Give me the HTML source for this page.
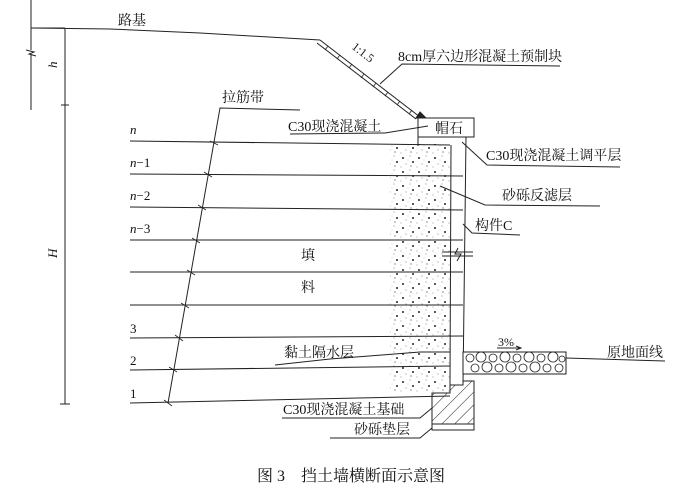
<!DOCTYPE html>
<html><head><meta charset="utf-8"><style>
html,body{margin:0;padding:0;background:#fff;}
svg{display:block;}
text{font-family:"Liberation Serif","Noto Serif CJK SC","Noto Sans CJK SC",serif;fill:#111;}
</style></head><body>
<svg width="684" height="492" viewBox="0 0 684 492" xmlns="http://www.w3.org/2000/svg">
<defs>
<pattern id="dots" width="16" height="14" patternUnits="userSpaceOnUse">
<circle cx="3" cy="4" r="1" fill="#222"/><circle cx="10" cy="2" r="0.5" fill="#666"/>
<circle cx="13" cy="8" r="1" fill="#222"/><circle cx="6" cy="10" r="0.5" fill="#666"/>
<circle cx="11" cy="12" r="0.6" fill="#444"/><circle cx="1" cy="13" r="0.5" fill="#777"/>
<circle cx="8" cy="6" r="0.4" fill="#888"/>
</pattern>
<pattern id="hatch" width="9" height="9" patternUnits="userSpaceOnUse" patternTransform="rotate(45)">
<line x1="0" y1="0" x2="0" y2="9" stroke="#222" stroke-width="1"/>
</pattern>
</defs>
<g stroke="#222" stroke-width="1" fill="none">
<line x1="31" y1="0" x2="31" y2="50"/><path d="M26 50 L34 52 L29 54 L36 56"/><line x1="31" y1="54" x2="31" y2="110"/>
<line x1="31" y1="28" x2="65" y2="28"/>
<line x1="65" y1="28" x2="65" y2="404"/>
<line x1="61" y1="105" x2="69" y2="105"/><line x1="60" y1="404" x2="70" y2="404"/>
<path d="M31 28 L110 29 L200 33 L320 40"/>
<path d="M320 40 L420 117"/><path d="M317 43 L416 119"/>
<g stroke-width="0.8">
<line x1="328" y1="46" x2="325" y2="50"/><line x1="340" y1="55" x2="337" y2="59"/><line x1="352" y1="64" x2="349" y2="68"/>
<line x1="364" y1="74" x2="361" y2="78"/><line x1="376" y1="83" x2="373" y2="87"/><line x1="388" y1="92" x2="385" y2="96"/>
<line x1="400" y1="101" x2="397" y2="105"/><line x1="412" y1="110" x2="409" y2="114"/>
</g>
<path d="M420 112 L426 118 L416 118 Z" fill="#222"/>
<rect x="418" y="118" width="56" height="19"/>
<line x1="418" y1="137" x2="418" y2="146"/>
<line x1="466" y1="137" x2="463" y2="385"/>
<line x1="451" y1="145" x2="450" y2="385"/>
<rect x="390" y="144" width="60" height="248" fill="url(#dots)" stroke="none"/>
<path d="M130 141 L450 145"/><path d="M130 174 L463 176"/><path d="M130 207 L463 210"/>
<path d="M130 240 L463 240"/><path d="M130 272 L463 272"/><path d="M130 305 L463 305"/>
<path d="M130 338 L463 336"/><path d="M130 370 L450 366"/><path d="M130 403 L450 396"/>
<path d="M300 110 L220 108 L168 403"/>
<g stroke-width="0.8">
<line x1="210" y1="141" x2="218" y2="145"/><line x1="204" y1="172" x2="212" y2="177"/><line x1="198" y1="205" x2="206" y2="210"/>
<line x1="192" y1="238" x2="200" y2="243"/><line x1="187" y1="270" x2="195" y2="275"/><line x1="181" y1="303" x2="189" y2="308"/>
<line x1="175" y1="335" x2="183" y2="341"/><line x1="169" y1="367" x2="177" y2="372"/><line x1="164" y1="400" x2="172" y2="406"/>
</g>
<path d="M442 252 L473 252 M442 256 L473 256 M458 248 L455 254 L461 254 L457 261"/>
<path d="M432 393 L450 393 L450 385 L463 385 L463 381 L474 381 L474 428 L432 428 Z" fill="url(#hatch)"/>
<rect x="432" y="424" width="42" height="6" fill="#fff"/>
<path d="M432 424 L474 424 M432 430 L474 430 M432 424 L432 430 M474 424 L474 430"/>
<rect x="463" y="352" width="103" height="22" fill="#fff"/>
<g stroke-width="0.8">
<circle cx="470" cy="358" r="4"/><circle cx="481" cy="357" r="5"/><circle cx="493" cy="358" r="4"/><circle cx="505" cy="357" r="5"/><circle cx="517" cy="358" r="4"/><circle cx="529" cy="357" r="5"/><circle cx="541" cy="358" r="4"/><circle cx="553" cy="357" r="5"/><circle cx="562" cy="359" r="3"/>
<circle cx="475" cy="368" r="4"/><circle cx="487" cy="367" r="5"/><circle cx="499" cy="368" r="4"/><circle cx="511" cy="367" r="5"/><circle cx="523" cy="368" r="4"/><circle cx="535" cy="367" r="5"/><circle cx="547" cy="368" r="4"/><circle cx="559" cy="368" r="4"/>
</g>
<path d="M566 358 L665 361"/>
<path d="M497 348 L520 348"/><path d="M516 346 L521 348 L516 350"/>
<path d="M380 84 L402 64 L560 66"/>
<path d="M385 133 L290 134 M385 133 L428 126"/>
<path d="M462 142 L487 165 L620 167"/>
<path d="M440 186 L485 205 L600 206"/>
<path d="M463 224 L472 233 L520 235"/>
<path d="M275 365 L330 359 L382 355 L420 352 M420 352 L450 352"/>
<path d="M282 418 L420 418 L432 408"/>
<path d="M330 438 L420 438 L432 428"/>
</g>
<g font-size="14">
<text x="118" y="25">路基</text>
<text x="222" y="102">拉筋带</text>
<text x="398" y="61">8cm厚六边形混凝土预制块</text>
<text transform="translate(351,48) rotate(38)" font-size="12">1:1.5</text>
<text x="288" y="131">C30现浇混凝土</text>
<text x="435" y="133">帽石</text>
<text x="486" y="160">C30现浇混凝土调平层</text>
<text x="502" y="200">砂砾反滤层</text>
<text x="475" y="230">构件C</text>
<text x="301" y="260">填</text>
<text x="301" y="292">料</text>
<text x="284" y="357">黏土隔水层</text>
<text x="498" y="346" font-size="12">3%</text>
<text x="607" y="357">原地面线</text>
<text x="283" y="414">C30现浇混凝土基础</text>
<text x="354" y="434">砂砾垫层</text>
<text x="130" y="134" font-style="italic" font-size="13">n</text>
<text x="130" y="167" font-size="13"><tspan font-style="italic">n</tspan>−1</text>
<text x="130" y="200" font-size="13"><tspan font-style="italic">n</tspan>−2</text>
<text x="130" y="233" font-size="13"><tspan font-style="italic">n</tspan>−3</text>
<text x="130" y="333" font-size="13">3</text>
<text x="130" y="365" font-size="13">2</text>
<text x="130" y="398" font-size="13">1</text>
<text transform="translate(57,68) rotate(-90)" font-style="italic" font-size="13">h</text>
<text transform="translate(57,258) rotate(-90)" font-style="italic" font-size="13">H</text>
<text x="257" y="481" font-size="16">图 3　挡土墙横断面示意图</text>
</g>
</svg>
</body></html>
